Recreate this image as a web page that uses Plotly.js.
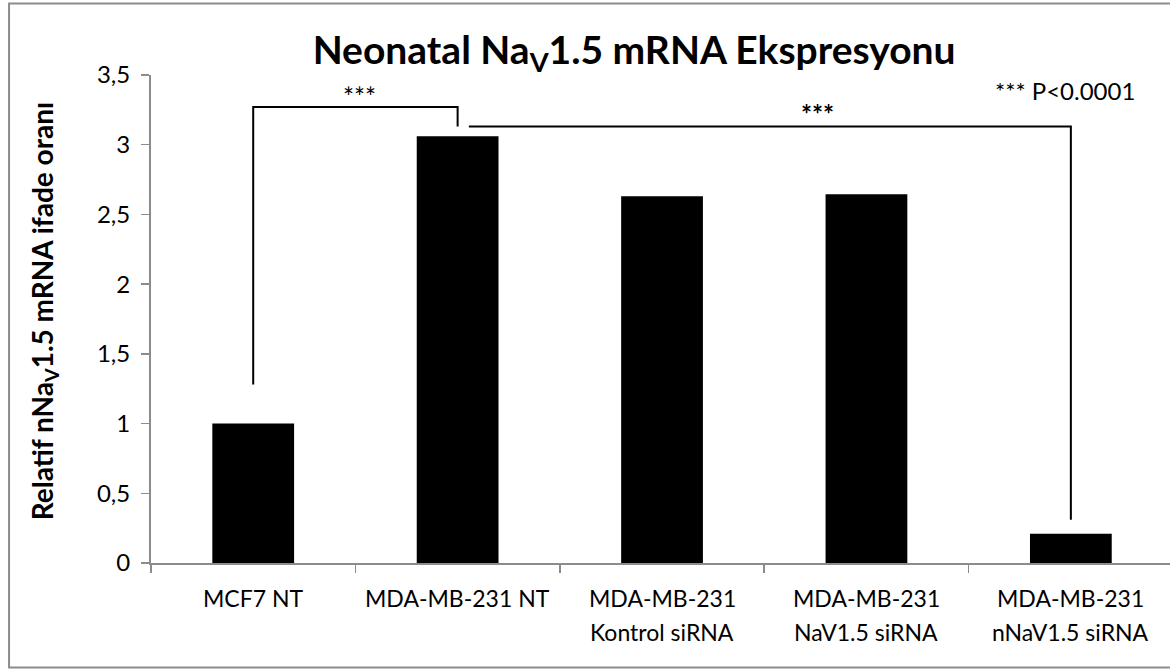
<!DOCTYPE html>
<html>
<head>
<meta charset="utf-8">
<script src="https://cdn.plot.ly/plotly-3.0.1.min.js"></script>
<style>html,body{margin:0;padding:0;background:#fff;}#chart{width:1170px;height:670px;}</style>
</head>
<body>
<div id="chart"></div>
<script>
// ---- data ----
var categories = ["MCF7 NT", "MDA-MB-231 NT", "MDA-MB-231 Kontrol siRNA", "MDA-MB-231 NaV1.5 siRNA", "MDA-MB-231 nNaV1.5 siRNA"];
var labelLine1 = ["MCF7 NT", "MDA-MB-231 NT", "MDA-MB-231", "MDA-MB-231", "MDA-MB-231"];
var labelLine2 = ["", "", "Kontrol siRNA", "NaV1.5 siRNA", "nNaV1.5 siRNA"];
var values = [1.0, 3.06, 2.63, 2.645, 0.21];
var yTicks = [0, 0.5, 1, 1.5, 2, 2.5, 3, 3.5];

// significance brackets
var bracketFrom = [0, 1.055];
var bracketTo = [1.0, 4.0];
var bracketLeftFoot = [1.28, 3.13];
var bracketRightFoot = [3.13, 0.31];
var bracketTop = [3.27, 3.13];
var bracketLabel = ["***", "<b>***</b>"];
var bracketLabelX = [0.52, 2.76];
var bracketLabelY = [3.34, 3.22];

var FONT = "Lato, 'Open Sans', sans-serif";

var trace = {
  type: "bar",
  x: categories.map(function(c, i){ return i; }),
  y: values,
  marker: {color: "#000000", line: {width: 0}},
  hoverinfo: "skip"
};

var shapes = [];
for (var b = 0; b < bracketFrom.length; b++) {
  var p = "M " + bracketFrom[b] + " " + bracketLeftFoot[b] +
          " L " + bracketFrom[b] + " " + bracketTop[b] +
          " L " + bracketTo[b] + " " + bracketTop[b] +
          " L " + bracketTo[b] + " " + bracketRightFoot[b];
  shapes.push({type: "path", xref: "x", yref: "y", path: p, line: {color: "#000", width: 2}});
}
// outer chart border
shapes.push({type: "rect", xref: "paper", yref: "paper", x0: -0.1393, x1: 1.03, y0: -0.2141, y1: 1.1465,
  line: {color: "#8c8c8c", width: 2}, fillcolor: "rgba(0,0,0,0)", layer: "below"});

var annotations = [];
for (var a = 0; a < bracketLabel.length; a++) {
  annotations.push({xref: "x", yref: "y", x: bracketLabelX[a], y: bracketLabelY[a], text: bracketLabel[a],
    showarrow: false, font: {family: FONT, size: 26, color: "#000"}, xanchor: "center", yanchor: "middle"});
}
annotations.push({xref: "x", yref: "y", x: 3.97, y: 3.39, text: "*** P<0.0001", showarrow: false,
  font: {family: FONT, size: 24, color: "#000"}, xanchor: "center", yanchor: "middle"});
for (var i = 0; i < categories.length; i++) {
  annotations.push({xref: "x", yref: "paper", x: i, y: -0.072, text: labelLine1[i], showarrow: false,
    font: {family: FONT, size: 23, color: "#000"}, xanchor: "center", yanchor: "middle"});
  if (labelLine2[i]) {
    annotations.push({xref: "x", yref: "paper", x: i, y: -0.142, text: labelLine2[i], showarrow: false,
      font: {family: FONT, size: 23, color: "#000"}, xanchor: "center", yanchor: "middle"});
  }
}
annotations.push({xref: "paper", yref: "paper", x: -0.105, y: 0.516, textangle: -90,
  text: "<b>Relatif nNa<sub>V</sub>1.5 mRNA ifade oranı</b>", showarrow: false,
  font: {family: FONT, size: 28, color: "#000"}, xanchor: "center", yanchor: "middle"});

var layout = {
  width: 1170, height: 670,
  margin: {l: 151, r: 0, t: 75, b: 107, pad: 0},
  paper_bgcolor: "#fff", plot_bgcolor: "#fff",
  separators: ",.",
  showlegend: false,
  bargap: 0.6,
  title: {text: "<b>Neonatal Na<sub>V</sub>1.5 mRNA Ekspresyonu</b>", x: 0.542, xref: "container", xanchor: "center",
    y: 0.925, yref: "container", yanchor: "middle", font: {family: FONT, size: 39, color: "#000"}},
  xaxis: {range: [-0.5, 4.485], showgrid: false, zeroline: false, showline: true, linecolor: "#8c8c8c", linewidth: 2,
    type: "category", categoryorder: "array", showticklabels: false, tickson: "boundaries",
    ticks: "outside", ticklen: 8, tickcolor: "#8c8c8c", tickwidth: 1.5, fixedrange: true},
  yaxis: {range: [0, 3.5], tickmode: "array", tickvals: yTicks, showgrid: false, zeroline: false,
    showline: true, linecolor: "#8c8c8c", linewidth: 2, ticks: "outside", ticklen: 8, tickcolor: "#8c8c8c", tickwidth: 1.5,
    tickfont: {family: FONT, size: 24, color: "#000"}, ticklabelstandoff: 6, fixedrange: true},
  shapes: shapes,
  annotations: annotations
};

Plotly.newPlot("chart", [trace], layout, {displayModeBar: false, staticPlot: true});
</script>
</body>
</html>
